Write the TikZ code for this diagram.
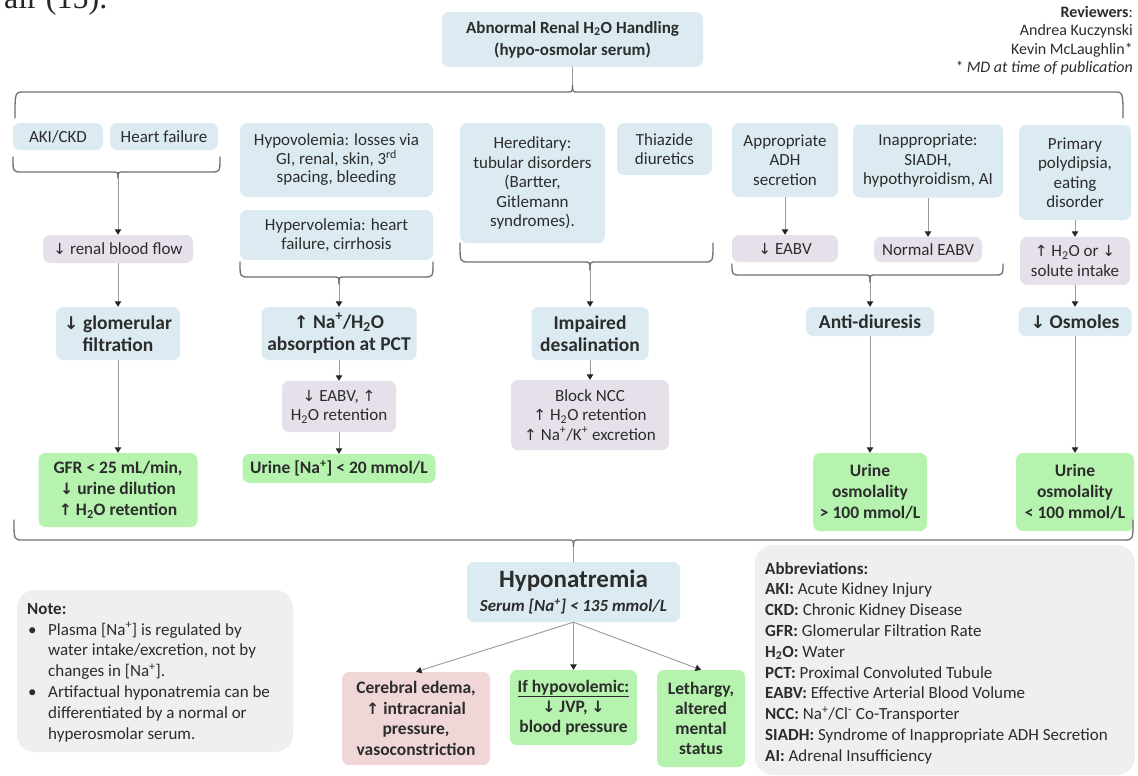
\documentclass[tikz,border=0pt]{standalone}
\usepackage{fontspec}
\usepackage{graphicx}
\setmainfont{Carlito}
\newfontfamily\symfont{DejaVu Sans}
\newfontfamily\cutserif{Liberation Serif}
\usetikzlibrary{arrows.meta}

\definecolor{fillblue}{HTML}{DCEBF1}
\definecolor{filllav}{HTML}{E5E0EA}
\definecolor{fillgreen}{HTML}{B5F3AE}
\definecolor{fillpink}{HTML}{F0D6D7}
\definecolor{fillgrey}{HTML}{EFEFEF}
\definecolor{ink}{HTML}{2C2C2C}
\definecolor{wire}{HTML}{9A9A9A}
\definecolor{bracec}{HTML}{707070}

\newcommand\uparr{\scalebox{0.9}{\symfont ↑}}
\newcommand\dnarr{\scalebox{0.9}{\symfont ↓}}
\newcommand\water{H\textsubscript{2}O}
\newcommand\sodium{Na\textsuperscript{+}}

% box: style, name, centre x, centre y, width, height, text
\newcommand\bx[7]{\node[#1, minimum width=#5pt, minimum height=#6pt] (#2) at (#3,#4) {#7};}

% curly brace: left x, right x, end y, spine y, tip x, tip y, tip name
\newcommand\brc[7]{%
  \draw[bracel] (#1,#3) .. controls (#1,#4) .. (#1+9,#4) -- (#5-6,#4) .. controls (#5,#4) .. (#5,#6);
  \draw[bracel] (#2,#3) .. controls (#2,#4) .. (#2-9,#4) -- (#5+6,#4) .. controls (#5,#4) .. (#5,#6);
  \coordinate (#7) at (#5,#6);}

\tikzset{
  box/.style={rounded corners=7pt, align=center, inner sep=1pt, text=ink},
  bluebox/.style={box, fill=fillblue},
  lavbox/.style={box, fill=filllav},
  greenbox/.style={box, fill=fillgreen},
  pinkbox/.style={box, fill=fillpink},
  greybox/.style={box, fill=fillgrey, rounded corners=18pt},
  fR/.style={font=\fontsize{17}{19.5}\selectfont},
  fH/.style={font=\fontsize{19.5}{22}\selectfont\bfseries},
  fG/.style={font=\fontsize{17.5}{21}\selectfont\bfseries},
  arr/.style={draw=wire, line width=0.9pt, -{Triangle[width=6.5pt,length=5.5pt,color=black!85]}},
  link/.style={draw=wire, line width=0.9pt},
  bracel/.style={draw=bracec, line width=1.3pt, line cap=round}
}

\begin{document}
\begin{tikzpicture}[x=1pt,y=-1pt]
\useasboundingbox (0,0) rectangle (1138,776);
\clip (0,0) rectangle (1138,776);
\fill[white] (0,0) rectangle (1138,776);

% running text of the page, cut off at the top edge
\node[anchor=base west, inner sep=0, text=black!85, font=\cutserif\fontsize{32}{36}\selectfont] (frag) at (4,9) {air (15).};

% title and reviewers
\bx{bluebox,font=\fontsize{17}{22}\selectfont\bfseries}{top}{572.5}{39.5}{261}{55}{Abnormal Renal \water{} Handling\\(hypo-osmolar serum)}
\node[anchor=north east, align=right, inner sep=0, text=ink, font=\fontsize{16}{18.3}\selectfont] (rev) at (1133,6)
  {\textbf{Reviewers}:\\Andrea Kuczynski\\Kevin McLaughlin*\\\textit{* MD at time of publication}};

% causes
\bx{bluebox,fR}{aki}{58}{136.5}{90}{27}{AKI/CKD}
\bx{bluebox,fR}{hf}{164}{136.5}{108}{27}{Heart failure}
\bx{bluebox,font=\fontsize{17}{18.5}\selectfont}{hypo}{336.5}{160}{193}{74}{Hypovolemia: losses via\\GI, renal, skin, 3\textsuperscript{rd}\\spacing, bleeding}
\bx{bluebox,fR}{hyper}{336.5}{235}{193}{50}{Hypervolemia: heart\\failure, cirrhosis}
\bx{bluebox,fR}{hered}{532.5}{183}{145}{120}{Hereditary:\\tubular disorders\\(Bartter,\\Gitlemann\\syndromes).}
\bx{bluebox,fR}{thz}{664.5}{149}{95}{52}{Thiazide\\diuretics}
\bx{bluebox,fR}{appr}{785}{160}{106}{74}{Appropriate\\ADH\\secretion}
\bx{bluebox,fR}{inap}{928}{161}{150}{73}{Inappropriate:\\SIADH,\\hypothyroidism, AI}
\bx{bluebox,fR}{prim}{1075}{172.5}{112}{95}{Primary\\polydipsia,\\eating\\disorder}

% intermediate effects
\bx{lavbox,fR}{rbf}{118}{249}{150}{28}{\dnarr{} renal blood flow}
\bx{lavbox,fR}{eabv1}{785}{248.5}{106}{27}{\dnarr{} EABV}
\bx{lavbox,fR}{neabv}{928}{249.5}{108}{25}{Normal EABV}
\bx{lavbox,fR}{solute}{1075}{261}{110}{48}{\uparr{} \water{} or \dnarr\\solute intake}

% mechanisms
\bx{bluebox,fH}{glom}{118}{333.5}{124}{53}{\dnarr{} glomerular\\filtration}
\bx{bluebox,fH}{pct}{339}{333.5}{155}{53}{\uparr{} \sodium/\water\\absorption at PCT}
\bx{bluebox,fH}{impd}{590}{333.5}{117}{53}{Impaired\\desalination}
\bx{bluebox,fH}{anti}{870}{321.5}{128}{29}{Anti-diuresis}
\bx{bluebox,fH}{osm}{1075}{321.5}{113}{29}{\dnarr{} Osmoles}

\bx{lavbox,fR}{eabvh}{339}{406.5}{114}{51}{\dnarr{} EABV, \uparr\\\water{} retention}
\bx{lavbox,fR}{ncc}{590}{415}{158}{70}{Block NCC\\\uparr{} \water{} retention\\\uparr{} \sodium/K\textsuperscript{+} excretion}

% urine findings
\bx{greenbox,fG}{gfr}{118}{490}{159}{74}{GFR < 25 mL/min,\\\dnarr{} urine dilution\\\uparr{} \water{} retention}
\bx{greenbox,fG}{una}{339}{468.5}{193}{29}{Urine [\sodium] < 20 mmol/L}
\bx{greenbox,fG}{uo1}{870}{492}{114}{78}{Urine\\osmolality\\> 100 mmol/L}
\bx{greenbox,fG}{uo2}{1075}{492}{118}{78}{Urine\\osmolality\\< 100 mmol/L}

% hyponatremia and its consequences
\bx{bluebox,font=\fontsize{17}{24}\selectfont\bfseries}{hypon}{573.5}{592}{213}{60}{{\fontsize{25}{27}\selectfont Hyponatremia}\\{\itshape Serum [\sodium] < 135 mmol/L}}
\bx{pinkbox,font=\fontsize{17.5}{20.5}\selectfont\bfseries}{cereb}{416}{718.5}{148}{93}{Cerebral edema,\\\uparr{} intracranial\\pressure,\\vasoconstriction}
\bx{greenbox,font=\fontsize{17.5}{20}\selectfont\bfseries}{hypov}{573.5}{707.5}{127}{75}{\underline{If hypovolemic:}\\\dnarr{} JVP, \dnarr\\blood pressure}
\bx{greenbox,font=\fontsize{17.5}{20}\selectfont\bfseries}{leth}{701}{718.5}{88}{97}{Lethargy,\\altered\\mental\\status}

% side panels
\bx{greybox}{note}{155}{671}{276}{162}{}
\node[anchor=north west, align=left, inner sep=0, text=ink, font=\fontsize{17}{20.8}\selectfont] (notetext) at (27,603)
  {\textbf{Note:}\\
   \makebox[21pt][l]{\hspace*{1pt}•}Plasma [\sodium] is regulated by\\
   \hspace*{21pt}water intake/excretion, not by\\
   \hspace*{21pt}changes in [\sodium].\\
   \makebox[21pt][l]{\hspace*{1pt}•}Artifactual hyponatremia can be\\
   \hspace*{21pt}differentiated by a normal or\\
   \hspace*{21pt}hyperosmolar serum.};

\bx{greybox}{abbr}{945}{660}{380}{230}{}
\node[anchor=north west, align=left, inner sep=0, text=ink, font=\fontsize{17}{20.8}\selectfont] (abbrtext) at (765,562)
  {\textbf{Abbreviations:}\\
   \textbf{AKI:} Acute Kidney Injury\\
   \textbf{CKD:} Chronic Kidney Disease\\
   \textbf{GFR:} Glomerular Filtration Rate\\
   \textbf{\water:} Water\\
   \textbf{PCT:} Proximal Convoluted Tubule\\
   \textbf{EABV:} Effective Arterial Blood Volume\\
   \textbf{NCC:} \sodium/Cl\textsuperscript{-} Co-Transporter\\
   \textbf{SIADH:} Syndrome of Inappropriate ADH Secretion\\
   \textbf{AI:} Adrenal Insufficiency};

% braces
\brc{15}{1123}{118}{92}{572.5}{85}{tipTop}
\brc{13}{220}{157}{172}{118}{178}{tipA}
\brc{240}{433}{262}{277}{339}{284}{tipB}
\brc{460}{713}{243}{262}{590}{270}{tipC}
\brc{732}{1003}{264}{275}{870}{282}{tipD}
\brc{14}{1133}{520}{540}{573.5}{547}{tipBot}

% connectors
\draw[link] (tipTop) -- (top);
\draw[arr] (tipA) -- (rbf);
\draw[arr] (rbf) -- (glom);
\draw[arr] (glom) -- (gfr);
\draw[arr] (tipB) -- (pct);
\draw[arr] (pct) -- (eabvh);
\draw[arr] (eabvh) -- (una);
\draw[arr] (tipC) -- (impd);
\draw[arr] (impd) -- (ncc);
\draw[arr] (appr) -- (eabv1);
\draw[arr] (inap) -- (neabv);
\draw[arr] (tipD) -- (anti);
\draw[arr] (anti) -- (uo1);
\draw[arr] (prim) -- (solute);
\draw[arr] (solute) -- (osm);
\draw[arr] (osm) -- (uo2);
\draw[link] (tipBot) -- (hypon);
\draw[arr] (hypon.south) -- (cereb.north);
\draw[arr] (hypon.south) -- (hypov.north);
\draw[arr] (hypon.south) -- (leth.north);
\end{tikzpicture}
\end{document}
